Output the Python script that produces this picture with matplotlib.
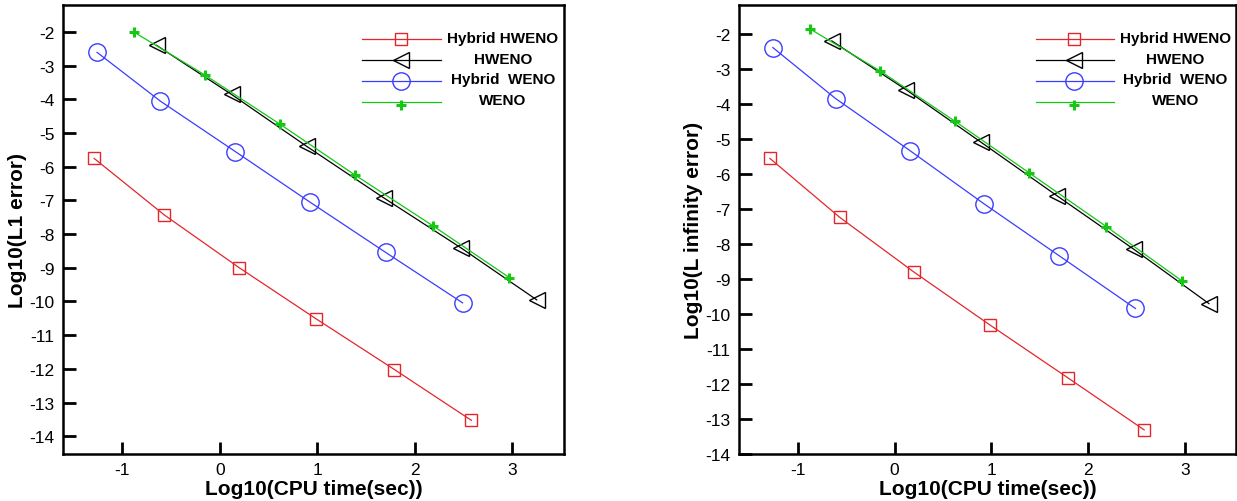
import matplotlib
matplotlib.use("Agg")
import matplotlib.pyplot as plt

plt.rcParams['font.family'] = ['Liberation Sans', 'DejaVu Sans']

series_names = ["Hybrid HWENO", "HWENO", "Hybrid  WENO", "WENO"]

# log10 CPU time (sec)
x_hybrid_hweno = [-1.29, -0.57, 0.20, 0.99, 1.79, 2.58]
x_hweno = [-0.65, 0.12, 0.89, 1.68, 2.47, 3.25]
x_hybrid_weno = [-1.26, -0.61, 0.16, 0.92, 1.70, 2.49]
x_weno = [-0.88, -0.15, 0.62, 1.39, 2.19, 2.97]

# log10 L1 error
l1_hybrid_hweno = [-5.75, -7.43, -9.00, -10.52, -12.02, -13.53]
l1_hweno = [-2.39, -3.85, -5.39, -6.92, -8.40, -9.95]
l1_hybrid_weno = [-2.60, -4.05, -5.55, -7.04, -8.54, -10.04]
l1_weno = [-2.00, -3.28, -4.74, -6.25, -7.76, -9.29]

# log10 L infinity error
linf_hybrid_hweno = [-5.55, -7.23, -8.80, -10.32, -11.82, -13.31]
linf_hweno = [-2.19, -3.59, -5.08, -6.62, -8.14, -9.70]
linf_hybrid_weno = [-2.38, -3.84, -5.33, -6.84, -8.33, -9.84]
linf_weno = [-1.84, -3.05, -4.48, -5.96, -7.50, -9.05]

x_ticks = [-1, 0, 1, 2, 3]
y_ticks = list(range(-2, -15, -1))

styles = [
    dict(color='#e3262b', marker='s', ms=9, mfc='none', mew=1.0),
    dict(color='black', marker='<', ms=12, mfc='none', mew=1.0),
    dict(color='#3a3cff', marker='o', ms=12.5, mfc='none', mew=1.0),
    dict(color='#14c814', marker='+', ms=6.5, mew=2.2),
]

fig = plt.figure(figsize=(12.37, 5.02), dpi=100)
ax1 = fig.add_axes([0.0509, 0.0936, 0.405, 0.894])
ax2 = fig.add_axes([0.5974, 0.0936, 0.4018, 0.894])


def draw(ax, ys, ylabel, ylim):
    xs = [x_hybrid_hweno, x_hweno, x_hybrid_weno, x_weno]
    for x, y, st in zip(xs, ys, styles):
        ax.plot(x, y, lw=0.9, **st)
    ax.set_xlim(-1.61, 3.53)
    ax.set_ylim(*ylim)
    ax.set_xticks(x_ticks)
    ax.set_yticks(y_ticks)
    ax.set_xticklabels([str(t) for t in x_ticks])
    ax.set_yticklabels([str(t) for t in y_ticks])
    ax.tick_params(direction='in', length=9, width=2, labelsize=12.5, pad=6)
    ax.tick_params(top=False, right=False)
    for sp in ax.spines.values():
        sp.set_linewidth(1.8)
    ax.set_xlabel("Log10(CPU time(sec))", fontsize=15, fontweight='bold', labelpad=1)
    ax.set_ylabel(ylabel, fontsize=15, fontweight='bold', labelpad=1.5)

    # legend drawn in axes coordinates
    rows = [0.924, 0.877, 0.831, 0.784]
    for yy, st, name in zip(rows, styles, series_names):
        ax.plot([0.597, 0.754], [yy, yy], transform=ax.transAxes, lw=0.9,
                color=st['color'], clip_on=False)
        mk = {k: v for k, v in st.items() if k != 'color'}
        my = yy - 0.006 if st['marker'] == '+' else yy
        ax.plot([0.675], [my], transform=ax.transAxes, color=st['color'],
                ls='none', clip_on=False, **mk)
        ax.text(0.878, yy + 0.004, name, transform=ax.transAxes, ha='center',
                va='center', fontsize=11, fontweight='bold')


draw(ax1, [l1_hybrid_hweno, l1_hweno, l1_hybrid_weno, l1_weno],
     "Log10(L1 error)", (-14.53, -1.2))
draw(ax2, [linf_hybrid_hweno, linf_hweno, linf_hybrid_weno, linf_weno],
     "Log10(L infinity error)", (-14.0, -1.17))

fig.savefig("out.png", dpi=100)
